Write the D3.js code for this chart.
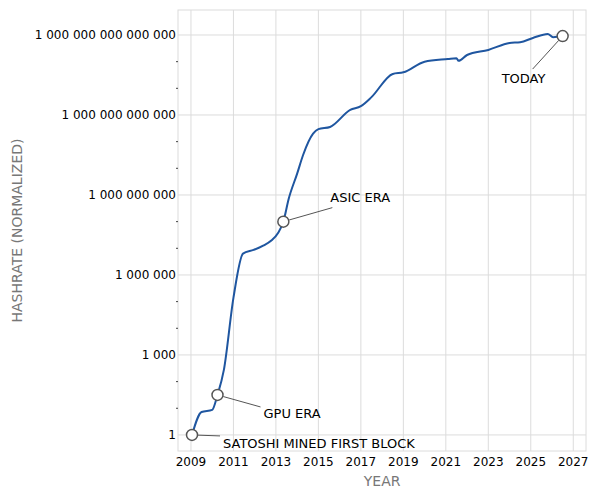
<!DOCTYPE html>
<html><head><meta charset="utf-8">
<script src="https://cdn.jsdelivr.net/npm/d3@7"></script>
<style>body{margin:0;background:#fff}text{font-family:"DejaVu Sans",sans-serif}</style>
</head><body><svg id="chart" width="597" height="500"></svg>
<script>
// year, log10 of normalized hashrate
var years = [2009.05,2009.5,2010.0,2010.25,2010.55,2011.0,2011.45,2011.95,2012.4,2012.8,2013.1,2013.35,2013.6,2014.0,2014.28,2014.75,2015.0,2015.55,2016.5,2017.0,2017.5,2018.5,2019.0,2020.0,2021.1,2021.5,2021.6,2022.0,2023.0,2024.0,2024.5,2025.1,2025.8,2026.05,2026.5];
var logHash = [0,0.86,0.94,1.5,2.44,5.14,6.8,6.94,7.1,7.3,7.57,8.0,8.85,9.8,10.5,11.3,11.47,11.55,12.19,12.33,12.67,13.54,13.6,14.0,14.1,14.13,14.03,14.25,14.44,14.7,14.73,14.89,15.04,14.92,14.96];
var xTicks = [2009,2011,2013,2015,2017,2019,2021,2023,2025,2027];
var yTicks = [0,3,6,9,12,15];
var yTickLabels = ["1","1 000","1 000 000","1 000 000 000","1 000 000 000 000","1 000 000 000 000 000"];
var notes = [
  {i:0, text:"SATOSHI MINED FIRST BLOCK", dx:31, dy:9, lx:28, ly:1},
  {i:3, text:"GPU ERA", dx:46, dy:19, lx:43, ly:12},
  {i:11, text:"ASIC ERA", dx:47, dy:-24, lx:49, ly:-14},
  {i:34, text:"TODAY", dx:-61, dy:42, lx:-30, ly:33}
];

var svg = d3.select("#chart");
var L = 178, R = 586, T = 10, B = 451;
var x = d3.scaleLinear().domain([2008.39, 2027.6]).range([L, R]);
var y = d3.scaleLinear().domain([-0.64, 15.9]).range([B + 1, T + 1]);

var g = svg.append("g");
g.selectAll("line.vx").data(xTicks).enter().append("line")
  .attr("x1", d => x(d)).attr("x2", d => x(d)).attr("y1", T).attr("y2", B)
  .attr("stroke", "#dcdcdc");
g.selectAll("line.hy").data(yTicks).enter().append("line")
  .attr("y1", d => y(d)).attr("y2", d => y(d)).attr("x1", L).attr("x2", R)
  .attr("stroke", "#dcdcdc");
g.append("rect").attr("x", L).attr("y", T).attr("width", R - L).attr("height", B - T)
  .attr("fill", "none").attr("stroke", "#dcdcdc");

// minor ticks every decade
var minor = d3.range(0, 16).filter(d => d % 3 !== 0);
g.selectAll("line.mn").data(minor).enter().append("line")
  .attr("x1", L - 2).attr("x2", L).attr("y1", d => y(d)).attr("y2", d => y(d))
  .attr("stroke", "#444");

g.selectAll("text.yl").data(yTicks).enter().append("text")
  .attr("x", L - 2).attr("y", d => y(d)).attr("dy", "0.35em")
  .attr("text-anchor", "end").attr("font-size", 12).text((d, i) => yTickLabels[i]);
g.selectAll("text.xl").data(xTicks).enter().append("text")
  .attr("x", d => x(d)).attr("y", B + 15).attr("text-anchor", "middle")
  .attr("font-size", 12).text(d => d);

svg.append("text").attr("x", x(2018)).attr("y", 486).attr("text-anchor", "middle")
  .attr("font-size", 14).attr("fill", "#777").text("YEAR");
svg.append("text").attr("transform", "translate(22," + ((T + B) / 2) + ") rotate(-90)")
  .attr("text-anchor", "middle").attr("font-size", 14).attr("fill", "#777")
  .text("HASHRATE (NORMALIZED)");

var line = d3.line().x((d, i) => x(years[i])).y(d => y(d)).curve(d3.curveMonotoneX);
svg.append("path").datum(logHash).attr("d", line)
  .attr("fill", "none").attr("stroke", "#1f56a0").attr("stroke-width", 2);

notes.forEach(function(n) {
  var cx = x(years[n.i]), cy = y(logHash[n.i]);
  var ang = Math.atan2(n.ly, n.lx);
  svg.append("line").attr("x1", cx + 6 * Math.cos(ang)).attr("y1", cy + 6 * Math.sin(ang))
    .attr("x2", cx + n.lx).attr("y2", cy + n.ly).attr("stroke", "#555").attr("stroke-width", 1);
  svg.append("circle").attr("cx", cx).attr("cy", cy).attr("r", 5.5)
    .attr("fill", "#fff").attr("stroke", "#555").attr("stroke-width", 1.5);
  svg.append("text").attr("x", cx + n.dx).attr("y", cy + n.dy).attr("dy", "0.35em")
    .attr("font-size", 13).text(n.text);
});
</script></body></html>
